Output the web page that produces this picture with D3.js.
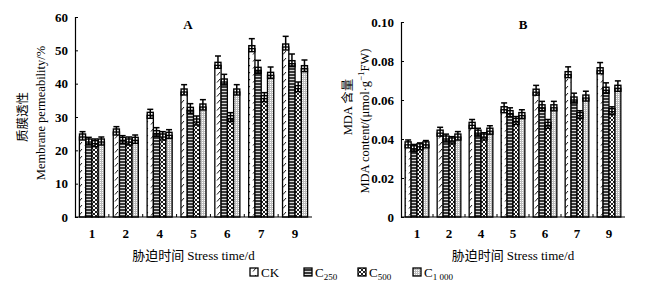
<!DOCTYPE html>
<html>
<head>
<meta charset="utf-8">
<script src="https://cdn.jsdelivr.net/npm/d3@7"></script>
<style>
  body { margin: 0; background: #fff; }
  svg text { font-family: "Liberation Serif", "Times New Roman", serif; }
</style>
</head>
<body>
<svg id="chart" width="651" height="287"></svg>
<script>
// stress days (categories)
var days = ["1", "2", "4", "5", "6", "7", "9"];
var treatments = ["CK", "C250", "C500", "C1000"];

// panel A: membrane permeability (%)
var permCK    = [24.0, 25.5, 30.5, 37.5, 45.5, 50.5, 51.0];
var perm250   = [22.5, 23.0, 25.0, 32.0, 40.5, 44.0, 46.0];
var perm500   = [22.0, 22.5, 24.0, 28.5, 29.5, 35.5, 38.5];
var perm1000  = [22.5, 23.0, 24.5, 33.0, 37.5, 42.5, 44.5];
var permErr   = [[1.6, 1.6, 1.8, 2.2, 2.8, 3.0, 3.2],
                 [1.4, 1.4, 1.8, 2.0, 2.3, 3.0, 2.9],
                 [1.4, 1.5, 1.6, 1.8, 1.8, 1.8, 2.0],
                 [1.5, 1.6, 1.7, 2.2, 2.2, 2.5, 2.6]];
var permTicks = [0, 10, 20, 30, 40, 50, 60];

// panel B: MDA content
var mdaCK   = [0.037, 0.043, 0.047, 0.055, 0.064, 0.073, 0.075];
var mda250  = [0.035, 0.040, 0.043, 0.053, 0.056, 0.060, 0.065];
var mda500  = [0.036, 0.039, 0.041, 0.049, 0.047, 0.052, 0.054];
var mda1000 = [0.037, 0.041, 0.044, 0.052, 0.056, 0.061, 0.066];
var mdaErr  = [[0.0025, 0.003, 0.003, 0.0035, 0.0035, 0.004, 0.0042],
               [0.0022, 0.0025, 0.0025, 0.003, 0.0033, 0.0035, 0.0038],
               [0.002, 0.0022, 0.0022, 0.0025, 0.003, 0.0025, 0.0025],
               [0.0022, 0.0028, 0.0028, 0.003, 0.0033, 0.0035, 0.0038]];
var mdaTicks = [0, 0.02, 0.04, 0.06, 0.08, 0.10];

var svg = d3.select("#chart");

// fill patterns, one per treatment
var defs = svg.append("defs");
var pCK = defs.append("pattern").attr("id", "pat0").attr("patternUnits", "userSpaceOnUse")
  .attr("width", 6).attr("height", 7);
pCK.append("rect").attr("width", 6).attr("height", 7).attr("fill", "#fff");
pCK.append("line").attr("x1", 1).attr("y1", 5.5).attr("x2", 4).attr("y2", 2)
  .attr("stroke", "#000").attr("stroke-width", 0.9);

var p250 = defs.append("pattern").attr("id", "pat1").attr("patternUnits", "userSpaceOnUse")
  .attr("width", 4).attr("height", 3);
p250.append("rect").attr("width", 4).attr("height", 3).attr("fill", "#3a3a3a");
p250.append("rect").attr("y", 1).attr("width", 4).attr("height", 1).attr("fill", "#d8d8d8");

var p500 = defs.append("pattern").attr("id", "pat2").attr("patternUnits", "userSpaceOnUse")
  .attr("width", 4).attr("height", 4);
p500.append("rect").attr("width", 4).attr("height", 4).attr("fill", "#fff");
p500.append("path").attr("d", "M0,0L4,4M4,0L0,4").attr("stroke", "#222").attr("stroke-width", 1);

var p1000 = defs.append("pattern").attr("id", "pat3").attr("patternUnits", "userSpaceOnUse")
  .attr("width", 2).attr("height", 2);
p1000.append("rect").attr("width", 2).attr("height", 2).attr("fill", "#bdbdbd");
p1000.append("rect").attr("width", 1).attr("height", 1).attr("fill", "#fff");

function drawPanel(opt) {
  var g = svg.append("g");
  var x = d3.scaleBand().domain(days).range([opt.x0, opt.x1])
    .paddingInner(0.26).paddingOuter(0.13);
  var xs = d3.scaleBand().domain(d3.range(4)).range([0, x.bandwidth()]);
  var y = d3.scaleLinear().domain([0, opt.max]).range([217, opt.yTop]);

  var rows = [];
  opt.series.forEach(function (vals, s) {
    vals.forEach(function (v, i) {
      rows.push({ day: days[i], s: s, v: v, e: opt.err[s][i] });
    });
  });

  // bars
  g.selectAll("rect.bar").data(rows).enter().append("rect")
    .attr("class", "bar")
    .attr("x", d => x(d.day) + xs(d.s))
    .attr("y", d => y(d.v))
    .attr("width", xs.bandwidth())
    .attr("height", d => y(0) - y(d.v))
    .attr("fill", d => "url(#pat" + d.s + ")")
    .attr("stroke", "#000").attr("stroke-width", 1.3);

  // error bars + marker boxes
  var cx = d => x(d.day) + xs(d.s) + xs.bandwidth() / 2;
  g.selectAll("line.err").data(rows).enter().append("line")
    .attr("x1", cx).attr("x2", cx)
    .attr("y1", d => y(d.v) + 3).attr("y2", d => y(d.v + d.e))
    .attr("stroke", "#000").attr("stroke-width", 1.5);
  g.selectAll("line.cap").data(rows).enter().append("line")
    .attr("x1", d => cx(d) - 3).attr("x2", d => cx(d) + 3)
    .attr("y1", d => y(d.v + d.e)).attr("y2", d => y(d.v + d.e))
    .attr("stroke", "#000").attr("stroke-width", 1.5);
  g.selectAll("rect.mk").data(rows).enter().append("rect")
    .attr("x", d => cx(d) - 3).attr("y", d => y(d.v) - 3)
    .attr("width", 6).attr("height", 6)
    .attr("fill", "none").attr("stroke", "#000").attr("stroke-width", 1.4);

  // axes
  var yAxis = g.append("g").attr("transform", "translate(" + opt.x0 + ",0)")
    .call(d3.axisLeft(y).tickValues(opt.ticks).tickFormat(opt.fmt).tickSize(-3).tickPadding(7));
  var xAxis = g.append("g").attr("transform", "translate(0,217)")
    .call(d3.axisBottom(x).tickSize(0).tickPadding(12));
  [yAxis, xAxis].forEach(function (a) {
    a.select(".domain").attr("stroke", "#000").attr("stroke-width", 1.2);
    a.selectAll("text").attr("font-size", 13).attr("font-weight", "bold")
      .attr("font-family", "Liberation Serif").attr("fill", "#000");
  });
  xAxis.select(".domain").attr("d", "M" + opt.x0 + ",0H" + opt.x1);
  // small ticks between groups on the x axis
  g.selectAll("line.xt").data(days.slice(1)).enter().append("line")
    .attr("x1", d => x(d) - x.step() * x.paddingInner() / 2)
    .attr("x2", d => x(d) - x.step() * x.paddingInner() / 2)
    .attr("y1", 217).attr("y2", 214).attr("stroke", "#000");

  // panel letter
  g.append("text").attr("x", opt.letterX).attr("y", 29).attr("text-anchor", "middle")
    .attr("font-size", 13).attr("font-weight", "bold").text(opt.letter);

  // x title
  var xt = g.append("text").attr("x", (opt.x0 + opt.x1) / 2).attr("y", 260)
    .attr("text-anchor", "middle").attr("font-size", 13);
  xt.append("tspan").attr("font-family", "Noto Sans CJK SC").text("胁迫时间 ");
  xt.append("tspan").text("Stress time/d");

  // y titles
  var t1 = g.append("text")
    .attr("transform", "translate(" + opt.ty1 + "," + opt.c1 + ") rotate(-90)")
    .attr("text-anchor", "middle").attr("font-size", 12.5);
  opt.title1(t1);
  var t2 = g.append("text")
    .attr("transform", "translate(" + opt.ty2 + "," + opt.c2 + ") rotate(-90)")
    .attr("text-anchor", "middle").attr("font-size", 12.5);
  opt.title2(t2);
}

drawPanel({
  x0: 75, x1: 312, yTop: 17, max: 60,
  series: [permCK, perm250, perm500, perm1000], err: permErr,
  ticks: permTicks, fmt: d3.format("d"),
  letter: "A", letterX: 188, ty1: 27, ty2: 45, c1: 117, c2: 113,
  title1: t => t.append("tspan").attr("font-family", "Noto Sans CJK SC").text("质膜透性"),
  title2: t => t.text("Membrane permeability/%")
});

drawPanel({
  x0: 401, x1: 625, yTop: 22, max: 0.10,
  series: [mdaCK, mda250, mda500, mda1000], err: mdaErr,
  ticks: mdaTicks, fmt: d => d === 0 ? "0" : d3.format(".2f")(d),
  letter: "B", letterX: 523, ty1: 352, ty2: 369, c1: 107, c2: 121,
  title1: function (t) {
    t.append("tspan").text("MDA ");
    t.append("tspan").attr("font-family", "Noto Sans CJK SC").text("含量");
  },
  title2: function (t) {
    t.append("tspan").text("MDA content/(μmol·g");
    t.append("tspan").attr("font-size", 9).attr("dy", -5).text("−1");
    t.append("tspan").attr("dy", 5).text("FW)");
  }
});

// legend
var legendNames = [["CK", ""], ["C", "250"], ["C", "500"], ["C", "1 000"]];
var legendX = [250, 304, 358, 413];
var lg = svg.append("g");
legendNames.forEach(function (n, i) {
  lg.append("rect").attr("x", legendX[i]).attr("y", 268).attr("width", 8).attr("height", 8)
    .attr("fill", "url(#pat" + i + ")").attr("stroke", "#000").attr("stroke-width", 1.3);
  var t = lg.append("text").attr("x", legendX[i] + 11).attr("y", 277).attr("font-size", 13);
  t.append("tspan").text(n[0]);
  if (n[1]) t.append("tspan").attr("font-size", 9).attr("dy", 3).text(n[1]);
});
</script>
</body>
</html>
